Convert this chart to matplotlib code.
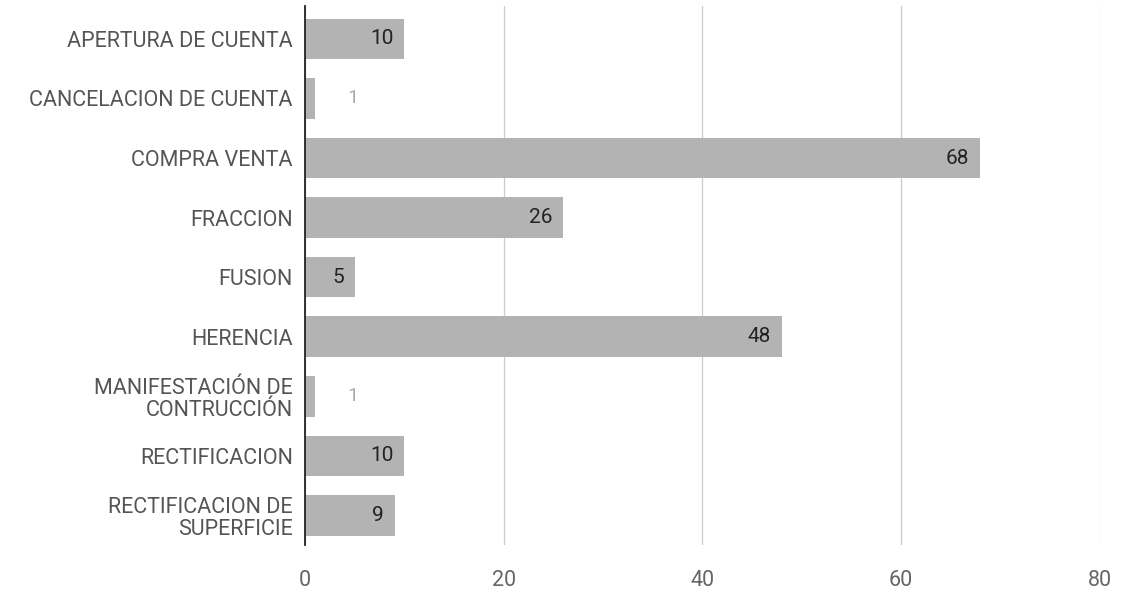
import matplotlib
matplotlib.use('Agg')
import matplotlib.pyplot as plt
import numpy as np

categories = [
    'APERTURA DE CUENTA',
    'CANCELACION DE CUENTA',
    'COMPRA VENTA',
    'FRACCION',
    'FUSION',
    'HERENCIA',
    'MANIFESTACIÓN DE\nCONTRUCCIÓN',
    'RECTIFICACION',
    'RECTIFICACION DE\nSUPERFICIE',
]
values = [10, 1, 68, 26, 5, 48, 1, 10, 9]
x_ticks = [0, 20, 40, 60, 80]

plt.rcParams['font.family'] = ['Roboto', 'DejaVu Sans']

fig = plt.figure(figsize=(11.22, 6.16), dpi=100)
ax = fig.add_axes([0.272, 0.115, 0.708, 0.875])

y_pos = np.arange(len(categories))
ax.barh(y_pos, values, height=0.68, color='#b3b3b3', zorder=2)

for i, v in enumerate(values):
    if v >= 5:
        ax.text(v - 1.1, i, str(v), ha='right', va='center', fontsize=15, color='#222222', zorder=3)
    else:
        ax.text(v + 3.2, i, str(v), ha='left', va='center', fontsize=14, color='#aaaaaa', zorder=3)

ax.set_yticks(y_pos)
ax.set_yticklabels(categories, fontsize=15.5, color='#555555', linespacing=1.05)
ax.set_ylim(len(categories) - 0.5, -0.55)

ax.set_xlim(0, 80)
ax.set_xticks(x_ticks)
ax.set_xticklabels([str(t) for t in x_ticks], fontsize=15.5, color='#666666')
ax.xaxis.grid(True, color='#cccccc', linewidth=0.9, zorder=0)
ax.tick_params(axis='both', length=0)
ax.tick_params(axis='x', pad=18)
ax.tick_params(axis='y', pad=9)

for side in ['top', 'right', 'bottom']:
    ax.spines[side].set_visible(False)
ax.spines['left'].set_color('#222222')
ax.spines['left'].set_linewidth(1.3)
ax.spines['left'].set_zorder(4)

fig.savefig('out.png', dpi=100)
